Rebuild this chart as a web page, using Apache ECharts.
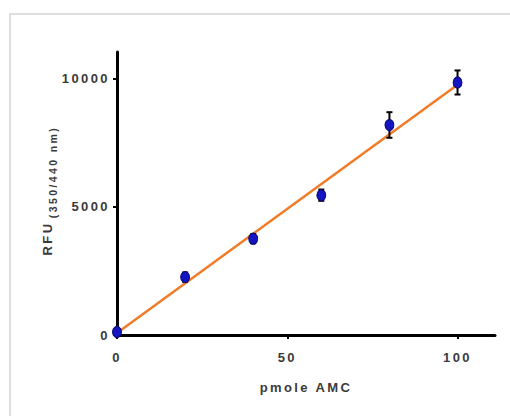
<!DOCTYPE html>
<html>
<head>
<meta charset="utf-8">
<script src="https://cdn.jsdelivr.net/npm/echarts@6/dist/echarts.min.js"></script>
<style>
  html, body { margin: 0; padding: 0; background: #fff; }
  #chart { width: 510px; height: 416px; }
  /* the original labels are drawn with wide letter spacing */
  #chart text { letter-spacing: 2.4px; }
</style>
</head>
<body>
<div id="chart"></div>
<script>
// standard curve values
var amc = [0, 20, 40, 60, 80, 100];
var rfu = [120, 2260, 3760, 5460, 8200, 9860];
var rfuErr = [80, 180, 180, 220, 500, 470];
// linear fit end points
var fitX = [0, 100];
var fitY = [80, 9770];
var xTicks = [0, 50, 100];
var yTicks = [0, 5000, 10000];

var points = amc.map(function (x, i) { return [x, rfu[i]]; });
var bars = amc.map(function (x, i) { return [x, rfu[i] - rfuErr[i], rfu[i] + rfuErr[i]]; });
var fit = fitX.map(function (x, i) { return [x, fitY[i]]; });

var font = 'Liberation Sans';
var txt = '#3a3a3a';
var yMax = 11050;
var myChart = echarts.init(document.getElementById('chart'), null, { renderer: 'svg' });

myChart.setOption({
    backgroundColor: '#fff',
    animation: false,
    graphic: [{
        type: 'rect',
        shape: { x: 10, y: 14, width: 600, height: 500 },
        style: { fill: 'none', stroke: '#dedede', lineWidth: 2 },
        silent: true
    }],
    grid: { left: 117, right: 15, top: 52, bottom: 81 },
    xAxis: {
        type: 'value',
        min: 0, max: 111,
        name: 'pmole AMC',
        nameLocation: 'middle',
        nameGap: 46,
        nameTextStyle: { fontFamily: font, fontWeight: 'bold', fontSize: 13, color: txt },
        splitLine: { show: false },
        axisLine: { onZero: false, lineStyle: { color: '#000', width: 3 } },
        axisTick: { length: 4, lineStyle: { color: '#000', width: 2 }, customValues: xTicks },
        axisLabel: { margin: 16, fontFamily: font, fontWeight: 'bold', fontSize: 13, color: txt, customValues: xTicks,
            formatter: function (v) { return String(v); } }
    },
    yAxis: [{
        type: 'value',
        min: 0, max: yMax,
        name: 'RFU',
        nameLocation: 'middle',
        nameRotate: 90,
        nameGap: 63,
        nameTextStyle: { fontFamily: font, fontWeight: 'bold', fontSize: 13, color: txt, padding: [0, 90, 0, 0] },
        splitLine: { show: false },
        axisLine: { onZero: false, lineStyle: { color: '#000', width: 3 } },
        axisTick: { length: 4, lineStyle: { color: '#000', width: 2 }, customValues: yTicks },
        axisLabel: { margin: 7, fontFamily: font, fontWeight: 'bold', fontSize: 13, color: txt, customValues: yTicks,
            formatter: function (v) { return String(v); } }
    }, {
        // second, invisible axis only carries the subscript of the axis title
        type: 'value',
        position: 'left',
        min: 0, max: yMax,
        name: '(350/440 nm)',
        nameLocation: 'middle',
        nameRotate: 90,
        nameGap: 59,
        nameTextStyle: { fontFamily: font, fontWeight: 'bold', fontSize: 10.5, color: txt, padding: [0, 0, 0, 43] },
        splitLine: { show: false },
        axisLine: { show: false },
        axisTick: { show: false },
        axisLabel: { show: false }
    }],
    series: [
        {
            type: 'line',
            data: fit,
            symbol: 'none',
            lineStyle: { color: '#f07c28', width: 2.5 },
            z: 2
        },
        {
            type: 'custom',
            data: bars,
            z: 3,
            renderItem: function (params, api) {
                var top = api.coord([api.value(0), api.value(2)]);
                var bot = api.coord([api.value(0), api.value(1)]);
                var cap = 3;
                var st = { stroke: '#000', lineWidth: 2 };
                return {
                    type: 'group',
                    children: [
                        { type: 'line', shape: { x1: top[0], y1: top[1], x2: bot[0], y2: bot[1] }, style: st },
                        { type: 'line', shape: { x1: top[0] - cap, y1: top[1], x2: top[0] + cap, y2: top[1] }, style: st },
                        { type: 'line', shape: { x1: bot[0] - cap, y1: bot[1], x2: bot[0] + cap, y2: bot[1] }, style: st }
                    ]
                };
            }
        },
        {
            type: 'scatter',
            data: points,
            symbol: 'circle',
            symbolSize: [9, 11],
            itemStyle: { color: '#1414c0', borderColor: '#0a0a70', borderWidth: 1, opacity: 1 },
            z: 4
        }
    ]
});
</script>
</body>
</html>
